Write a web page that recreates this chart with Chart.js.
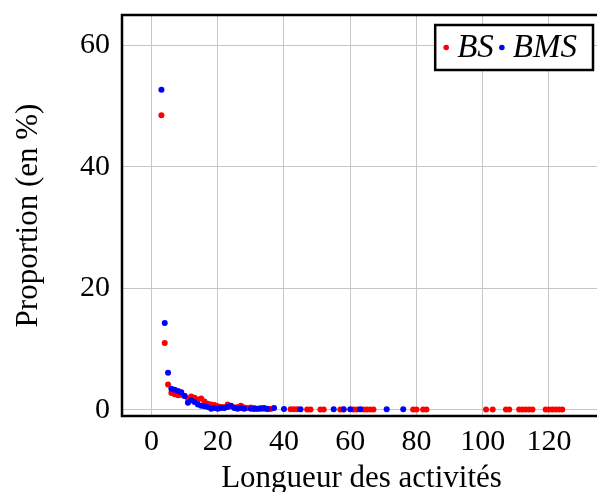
<!DOCTYPE html>
<html>
<head>
<meta charset="utf-8">
<script src="https://cdn.jsdelivr.net/npm/chart.js@4.4.1/dist/chart.umd.min.js"></script>
<style>
  html, body { margin: 0; padding: 0; background: #fff; overflow: hidden; }
  #wrap { width: 605px; height: 492px; }
</style>
</head>
<body>
<div id="wrap"><canvas id="chart" width="605" height="492"></canvas></div>
<script>
// values
const bsX = [3, 4, 5, 6, 7, 8, 9, 10, 11, 12, 13, 14, 15, 16, 17, 18, 19, 20, 21, 22, 23, 24, 25, 26, 27, 28, 29, 30,
  31, 32, 33, 34, 35, 36, 42, 43, 44, 47, 48, 51, 52, 57, 58, 61, 62, 64, 65, 66, 67, 79, 80, 82, 83,
  101, 103, 107, 108, 111, 112, 113, 114, 115, 119, 120, 121, 122, 123, 124];
const bsY = [48.5, 11.0, 4.2, 2.8, 2.6, 2.4, 2.5, 2.3, 1.9, 2.2, 2.0, 1.7, 1.9, 1.4, 1.0, 0.9, 0.8, 0.6, 0.5, 0.5, 0.9, 0.6, 0.4, 0.5, 0.7, 0.4, 0.3, 0.4,
  0.3, 0.2, 0.3, 0.2, 0.2, 0.15, 0.1, 0.1, 0.1, 0.05, 0.05, 0.05, 0.05, 0.05, 0.05, 0.05, 0.05, 0.05, 0.05, 0.05, 0.05, 0.05, 0.05, 0.05, 0.05,
  0.05, 0.05, 0.05, 0.05, 0.05, 0.05, 0.05, 0.05, 0.05, 0.05, 0.05, 0.05, 0.05, 0.05, 0.05];

const bmsX = [3, 4, 5, 6, 7, 8, 9, 10, 11, 12, 13, 14, 15, 16, 17, 18, 19, 20, 21, 22, 23, 24, 25, 26, 27, 28,
  30, 31, 32, 33, 34, 35, 37, 40, 45, 55, 58, 60, 63, 71, 76];
const bmsY = [52.7, 14.3, 6.1, 3.5, 3.3, 3.1, 2.9, 2.3, 1.2, 1.6, 1.3, 0.9, 0.7, 0.6, 0.5, 0.2, 0.3, 0.2, 0.3, 0.3, 0.5, 0.7, 0.3, 0.2, 0.3, 0.2,
  0.2, 0.15, 0.2, 0.2, 0.3, 0.15, 0.3, 0.15, 0.1, 0.1, 0.1, 0.1, 0.1, 0.1, 0.1];

const xTicks = [0, 20, 40, 60, 80, 100, 120];
const yTicks = [0, 20, 40, 60];

const FONT = 'Liberation Serif';

function toPoints(xs, ys) {
    return xs.map((x, i) => ({ x: x, y: ys[i] }));
}

// drop the extra room chart.js keeps for half tick labels
function noLabelPadding(scale) {
    scale.paddingTop = 0;
    scale.paddingBottom = 0;
    scale.paddingLeft = 0;
    scale.paddingRight = 0;
}

// black frame around the plot area
const framePlugin = {
    id: 'frame',
    afterDatasetsDraw(chart) {
        const a = chart.chartArea;
        const ctx = chart.ctx;
        ctx.save();
        ctx.strokeStyle = '#000';
        ctx.lineWidth = 2.5;
        ctx.strokeRect(a.left, a.top, a.right - a.left, a.bottom - a.top);
        ctx.restore();
    }
};

// boxed legend in the top right corner, dot + italic label for each dataset
const legendPlugin = {
    id: 'boxLegend',
    afterDraw(chart) {
        const ctx = chart.ctx;
        const a = chart.chartArea;
        ctx.save();
        ctx.font = 'italic 33px "' + FONT + '"';
        const items = chart.data.datasets.slice().sort((p, q) => p.legendIndex - q.legendIndex);
        let w = 11;
        items.forEach(d => { w += 11 + ctx.measureText(d.label).width + 8; });
        w += 8;
        const h = 45;
        const right = a.right - 8;
        const left = right - w;
        const top = a.top + 10;
        ctx.fillStyle = '#fff';
        ctx.fillRect(left, top, w, h);
        ctx.strokeStyle = '#000';
        ctx.lineWidth = 2.5;
        ctx.strokeRect(left, top, w, h);
        let x = left + 11;
        const cy = top + h / 2;
        items.forEach(d => {
            ctx.fillStyle = d.backgroundColor;
            ctx.beginPath();
            ctx.arc(x, cy, 2.8, 0, Math.PI * 2);
            ctx.fill();
            x += 11;
            ctx.fillStyle = '#000';
            ctx.textBaseline = 'middle';
            ctx.fillText(d.label, x, cy + 1);
            x += ctx.measureText(d.label).width + 8;
        });
        ctx.restore();
    }
};

new Chart(document.getElementById('chart'), {
    type: 'scatter',
    data: {
        datasets: [
            {
                label: 'BS',
                legendIndex: 0,
                data: toPoints(bsX, bsY),
                backgroundColor: '#ff0000',
                borderWidth: 0,
                pointRadius: 3,
                order: 2
            },
            {
                label: 'BMS',
                legendIndex: 1,
                data: toPoints(bmsX, bmsY),
                backgroundColor: '#0000ff',
                borderWidth: 0,
                pointRadius: 3,
                order: 1
            }
        ]
    },
    options: {
        responsive: false,
        animation: false,
        layout: { padding: { left: 0, top: 15, right: 1, bottom: 0 } },
        plugins: {
            legend: { display: false },
            tooltip: { enabled: false }
        },
        scales: {
            x: {
                type: 'linear',
                min: -8.9,
                max: 135.7,
                afterBuildTicks: scale => { scale.ticks = xTicks.map(v => ({ value: v })); },
                afterFit: scale => { scale.height = 76; noLabelPadding(scale); },
                ticks: {
                    color: '#000',
                    font: { family: FONT, size: 30 },
                    padding: 8,
                    maxRotation: 0
                },
                grid: { color: '#c6c6c6', lineWidth: 1, drawTicks: false },
                border: { display: false },
                title: {
                    display: true,
                    text: 'Longueur des activités',
                    color: '#000',
                    font: { family: FONT, size: 31 },
                    padding: { top: 0, bottom: -5 }
                }
            },
            y: {
                type: 'linear',
                min: -1.0,
                max: 65,
                afterBuildTicks: scale => { scale.ticks = yTicks.map(v => ({ value: v })); },
                afterFit: scale => { scale.width = 122; noLabelPadding(scale); },
                ticks: {
                    color: '#000',
                    font: { family: FONT, size: 30 },
                    padding: 12
                },
                grid: { color: '#c6c6c6', lineWidth: 1, drawTicks: false },
                border: { display: false },
                title: {
                    display: true,
                    text: 'Proportion (en %)',
                    color: '#000',
                    font: { family: FONT, size: 31 },
                    padding: { top: 10, bottom: 0 }
                }
            }
        }
    },
    plugins: [framePlugin, legendPlugin]
});
</script>
</body>
</html>
